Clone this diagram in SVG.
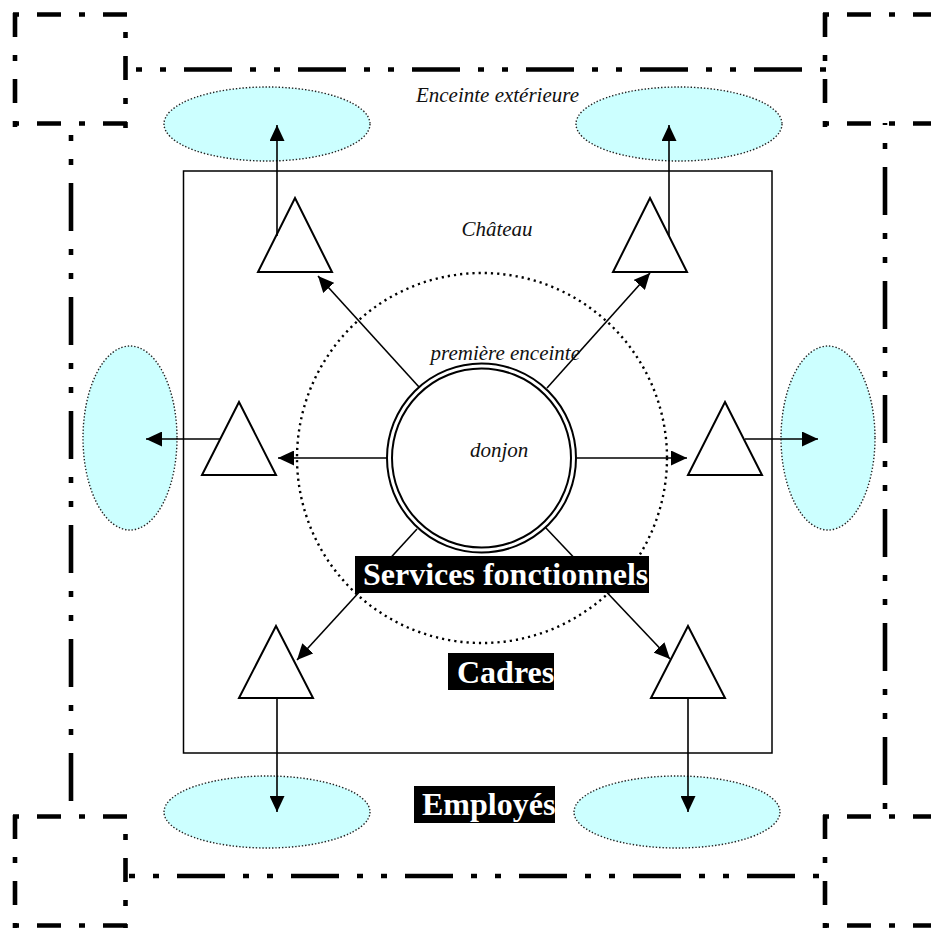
<svg xmlns="http://www.w3.org/2000/svg" width="931" height="928" viewBox="0 0 931 928">
<style>
.sq{fill:none;stroke:#000;stroke-width:4.6}
.ln{fill:none;stroke:#000;stroke-width:4.6;stroke-dasharray:48 18 6 18 6 18}
.ell{fill:#ccffff;stroke:#222;stroke-width:1.4;stroke-dasharray:1.4 1.9}
.tri{fill:#fff;stroke:#000;stroke-width:2}
.con{fill:none;stroke:#000;stroke-width:1.6;marker-end:url(#ah)}
.it{font-family:"Liberation Serif","Times New Roman",serif;font-style:italic;font-size:21px;fill:#111}
.lb{font-family:"Liberation Serif","Times New Roman",serif;font-weight:bold;font-size:32px;fill:#fff}
</style>
<defs>
<marker id="ah" markerUnits="userSpaceOnUse" markerWidth="16" markerHeight="15" refX="16" refY="7.5" orient="auto" viewBox="0 0 16 15"><path d="M0,0 L16,7.5 L0,15 z" fill="#000"/></marker>
<g id="sqshape">
<line class="sq" x1="15" y1="13" x2="15" y2="127" style="stroke-dasharray:24 18 6 18"/>
<line class="sq" x1="13" y1="14.5" x2="128" y2="14.5" style="stroke-dasharray:6 18 24 18"/>
<line class="sq" x1="13" y1="123.5" x2="128" y2="123.5" style="stroke-dasharray:6 18 24 18"/>
<line class="sq" x1="125.5" y1="32" x2="125.5" y2="128" style="stroke-dasharray:6 18 24 18"/>
</g>
</defs>
<rect width="931" height="928" fill="#fff"/>
<g id="enceinte-exterieure">
<use href="#sqshape"/>
<use href="#sqshape" transform="translate(810,0)"/>
<use href="#sqshape" transform="translate(0,802)"/>
<use href="#sqshape" transform="translate(810,802)"/>
<line class="ln" x1="127" y1="69.5" x2="828" y2="69.5" stroke-dashoffset="57"/>
<line class="ln" x1="127" y1="876" x2="828" y2="876" stroke-dashoffset="64"/>
<line class="ln" x1="71" y1="123" x2="71" y2="815" stroke-dashoffset="54"/>
<line class="ln" x1="885" y1="123" x2="885" y2="815" stroke-dashoffset="70"/>
</g>
<g id="employes">
<ellipse class="ell" cx="267" cy="124" rx="103" ry="37"/>
<ellipse class="ell" cx="679" cy="124" rx="103" ry="37"/>
<ellipse class="ell" cx="130" cy="438" rx="47" ry="92"/>
<ellipse class="ell" cx="828" cy="438" rx="47" ry="92"/>
<ellipse class="ell" cx="267" cy="812" rx="103" ry="36"/>
<ellipse class="ell" cx="677" cy="812" rx="103" ry="36"/>
</g>
<g id="chateau">
<rect x="183.5" y="171" width="588.5" height="582" fill="none" stroke="#000" stroke-width="1.5"/>
</g>
<g id="premiere-enceinte">
<circle cx="482" cy="458" r="185" fill="none" stroke="#000" stroke-width="2.4" stroke-dasharray="2.2 4"/>
</g>
<g id="cadres">
<polygon class="tri" points="295,198 332,272 258,272"/>
<polygon class="tri" points="650,198 687,272 613,272"/>
<polygon class="tri" points="239,402 276,475 202,475"/>
<polygon class="tri" points="725,402 762,475 688,475"/>
<polygon class="tri" points="276,626 313,698 239,698"/>
<polygon class="tri" points="688,626 725,698 651,698"/>
</g>
<g id="connectors">
<line class="con" x1="277" y1="236" x2="277" y2="125"/>
<line class="con" x1="669" y1="236" x2="669" y2="125"/>
<line class="con" x1="220" y1="439" x2="146" y2="439"/>
<line class="con" x1="745" y1="439" x2="818" y2="439"/>
<line class="con" x1="277" y1="698" x2="277" y2="812"/>
<line class="con" x1="688" y1="698" x2="688" y2="812"/>
<line class="con" x1="387" y1="458" x2="278" y2="458"/>
<line class="con" x1="577" y1="458" x2="687" y2="458"/>
<line class="con" x1="419" y1="387" x2="318" y2="276"/>
<line class="con" x1="547" y1="388" x2="650" y2="273"/>
<line class="con" x1="417" y1="529" x2="297" y2="660"/>
<line class="con" x1="545" y1="527" x2="670" y2="659"/>
</g>
<g id="donjon">
<circle cx="481.5" cy="458" r="94.5" fill="#fff" stroke="#000" stroke-width="2"/>
<circle cx="481.5" cy="458" r="89.5" fill="none" stroke="#000" stroke-width="2"/>
<text class="it" x="470" y="457">donjon</text>
</g>
<g id="textes">
<text class="it" x="579" y="102" text-anchor="end">Enceinte extérieure</text>
<text class="it" x="497" y="236" text-anchor="middle">Château</text>
<text class="it" x="580" y="360" text-anchor="end">première enceinte</text>
</g>
<g id="label-services">
<rect x="355" y="556" width="294" height="37" fill="#000"/>
<text class="lb" x="363" y="585">Services fonctionnels</text>
</g>
<g id="label-cadres">
<rect x="448" y="653" width="106" height="37" fill="#000"/>
<text class="lb" x="457" y="683">Cadres</text>
</g>
<g id="label-employes">
<rect x="414" y="786" width="141" height="37" fill="#000"/>
<text class="lb" x="422" y="815">Employés</text>
</g>
</svg>
